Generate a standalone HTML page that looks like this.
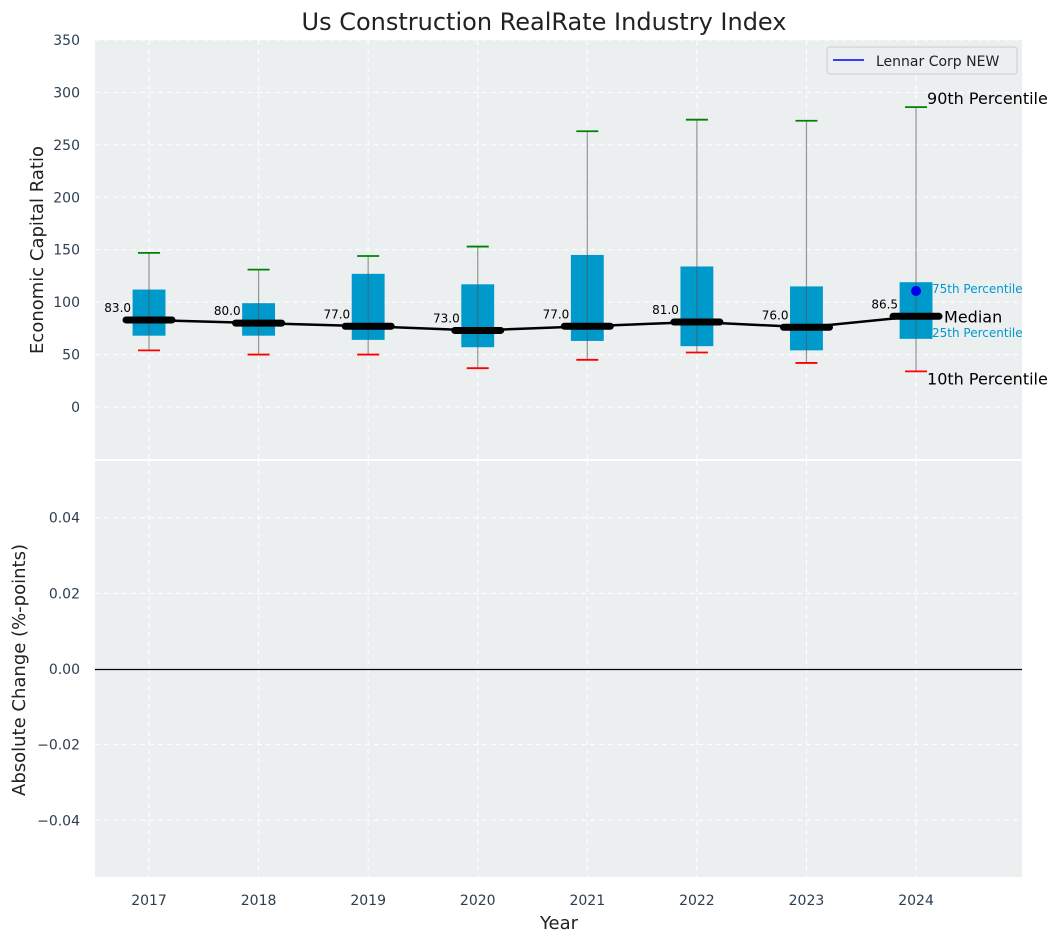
<!DOCTYPE html>
<html><head><meta charset="utf-8"><style>
body{margin:0;background:#fff;}
svg text{font-family:"DejaVu Sans","Liberation Sans",sans-serif;}
</style></head><body>
<svg id="c" width="1062" height="942" xmlns="http://www.w3.org/2000/svg"></svg>
<script>
const years=[2017,2018,2019,2020,2021,2022,2023,2024];
const p10=[54,50,50,37,45,52,42,34];
const q25=[68,68,64,57,63,58,54,65];
const medians=[83,80,77,73,77,81,76,86.5];
const q75=[112,99,127,117,145,134,115,119];
const p90=[147,131,144,153,263,274,273,286];
const companyValue=110.6;
const topTicks=[0,50,100,150,200,250,300,350];
const botTicks=[-0.04,-0.02,0,0.02,0.04];

const NS="http://www.w3.org/2000/svg";
const svg=document.getElementById('c');
function el(t,a,p){const e=document.createElementNS(NS,t);for(const k in a)e.setAttribute(k,a[k]);(p||svg).appendChild(e);return e;}
const L=95,R=1022,T1=40,B1=459,T2=461,B2=877;
const X0=2016.507,X1=2024.967;
const x=v=>L+(v-X0)/(X1-X0)*(R-L);
const y1=v=>T1+(350-v)/(350-(-49.6))*(B1-T1);
const y2=v=>T2+(0.055-v)/0.11*(B2-T2);

let t=el('text',{x:544,y:30,'font-size':24,'text-anchor':'middle',fill:'#222'});t.textContent='Us Construction RealRate Industry Index';


let p=el('rect',{x:L,y:T1,width:R-L,height:B1-T1,fill:'#ebeff0'});

p=el('rect',{x:L,y:T2,width:R-L,height:B2-T2,fill:'#ebeff0'});


years.forEach(yr=>{
 let g=el('line',{x1:x(yr),x2:x(yr),y1:T1,y2:B1,stroke:'#fff','stroke-dasharray':'5,4','stroke-width':1});
 
 g=el('line',{x1:x(yr),x2:x(yr),y1:T2,y2:B2,stroke:'#fff','stroke-dasharray':'5,4','stroke-width':1});
 
 let tx=el('text',{x:x(yr),y:905,'font-size':14,'text-anchor':'middle',fill:'#2c3e50'});tx.textContent=yr;
 
});
topTicks.forEach(v=>{
 let g=el('line',{x1:L,x2:R,y1:y1(v),y2:y1(v),stroke:'#fff','stroke-dasharray':'5,4','stroke-width':1});
 
 let tx=el('text',{x:80,y:y1(v)+5,'font-size':14,'text-anchor':'end',fill:'#2c3e50'});tx.textContent=v;
 
});
botTicks.forEach(v=>{
 let g=el('line',{x1:L,x2:R,y1:y2(v),y2:y2(v),stroke:'#fff','stroke-dasharray':'5,4','stroke-width':1});
 
 let tx=el('text',{x:80,y:y2(v)+5,'font-size':14,'text-anchor':'end',fill:'#2c3e50'});tx.textContent=(v<0?'\u22120':'0')+Math.abs(v).toFixed(2).slice(1);
 
});
let z=el('line',{x1:L,x2:R,y1:Math.round(y2(0))+0.5,y2:Math.round(y2(0))+0.5,stroke:'#000','stroke-width':1.2});


const bw=(R-L)/(X1-X0)*0.3, cw=22, mw=(R-L)/(X1-X0)*0.42;
years.forEach((yr,i)=>{
 const cx=x(yr);
 let b=el('rect',{x:cx-bw/2,y:y1(q75[i]),width:bw,height:y1(q25[i])-y1(q75[i]),fill:'#0099cc'});
 
 let w=el('line',{x1:cx,x2:cx,y1:y1(p10[i]),y2:y1(p90[i]),stroke:'#555','stroke-opacity':0.6,'stroke-width':1.2});
 
 let c=el('line',{x1:cx-cw/2,x2:cx+cw/2,y1:y1(p90[i]),y2:y1(p90[i]),stroke:'green','stroke-width':1.8});
 
 c=el('line',{x1:cx-cw/2,x2:cx+cw/2,y1:y1(p10[i]),y2:y1(p10[i]),stroke:'red','stroke-width':1.8});
 
});
let pts=years.map((yr,i)=>x(yr)+','+y1(medians[i])).join(' ');
let ml=el('polyline',{points:pts,fill:'none',stroke:'#000','stroke-width':2.5});

years.forEach((yr,i)=>{
 const cx=x(yr);
 let m=el('line',{x1:cx-mw/2,x2:cx+mw/2,y1:y1(medians[i]),y2:y1(medians[i]),stroke:'#000','stroke-width':7,'stroke-linecap':'round'});
 
 let tx=el('text',{x:cx-18,y:y1(medians[i])-8,'font-size':12,'text-anchor':'end',fill:'#000'});tx.textContent=medians[i].toFixed(1);
 
});
const lx=x(2024);
let dot=el('circle',{cx:lx,cy:y1(companyValue),r:5,fill:'#0000ee'});

const ann=[['90th Percentile',11,y1(p90[7])-3,16,'#000'],['75th Percentile',16,y1(q75[7])+11,12,'#0099cc'],['Median',28,y1(medians[7])+6,16,'#000'],['25th Percentile',16,y1(q25[7])-2,12,'#0099cc'],['10th Percentile',11,y1(p10[7])+13,16,'#000']];
ann.forEach(a=>{let tx=el('text',{x:lx+a[1],y:a[2],'font-size':a[3],fill:a[4]});tx.textContent=a[0];
 });

let lg=el('g',{});
el('rect',{x:827,y:47,width:190,height:27,rx:3,fill:'#ebeff0',stroke:'#ccc'},lg);
el('line',{x1:833,x2:864,y1:60,y2:60,stroke:'#0000ff','stroke-width':1.5},lg);
let lt=el('text',{x:876,y:66,'font-size':14,fill:'#222'},lg);lt.textContent='Lennar Corp NEW';

t=el('text',{x:0,y:0,'font-size':18,'text-anchor':'middle',fill:'#222',transform:'translate(43,250) rotate(-90)'});t.textContent='Economic Capital Ratio';

t=el('text',{x:0,y:0,'font-size':18,'text-anchor':'middle',fill:'#222',transform:'translate(25,670) rotate(-90)'});t.textContent='Absolute Change (%-points)';

t=el('text',{x:559,y:929,'font-size':18,'text-anchor':'middle',fill:'#222'});t.textContent='Year';

</script>
</body></html>
